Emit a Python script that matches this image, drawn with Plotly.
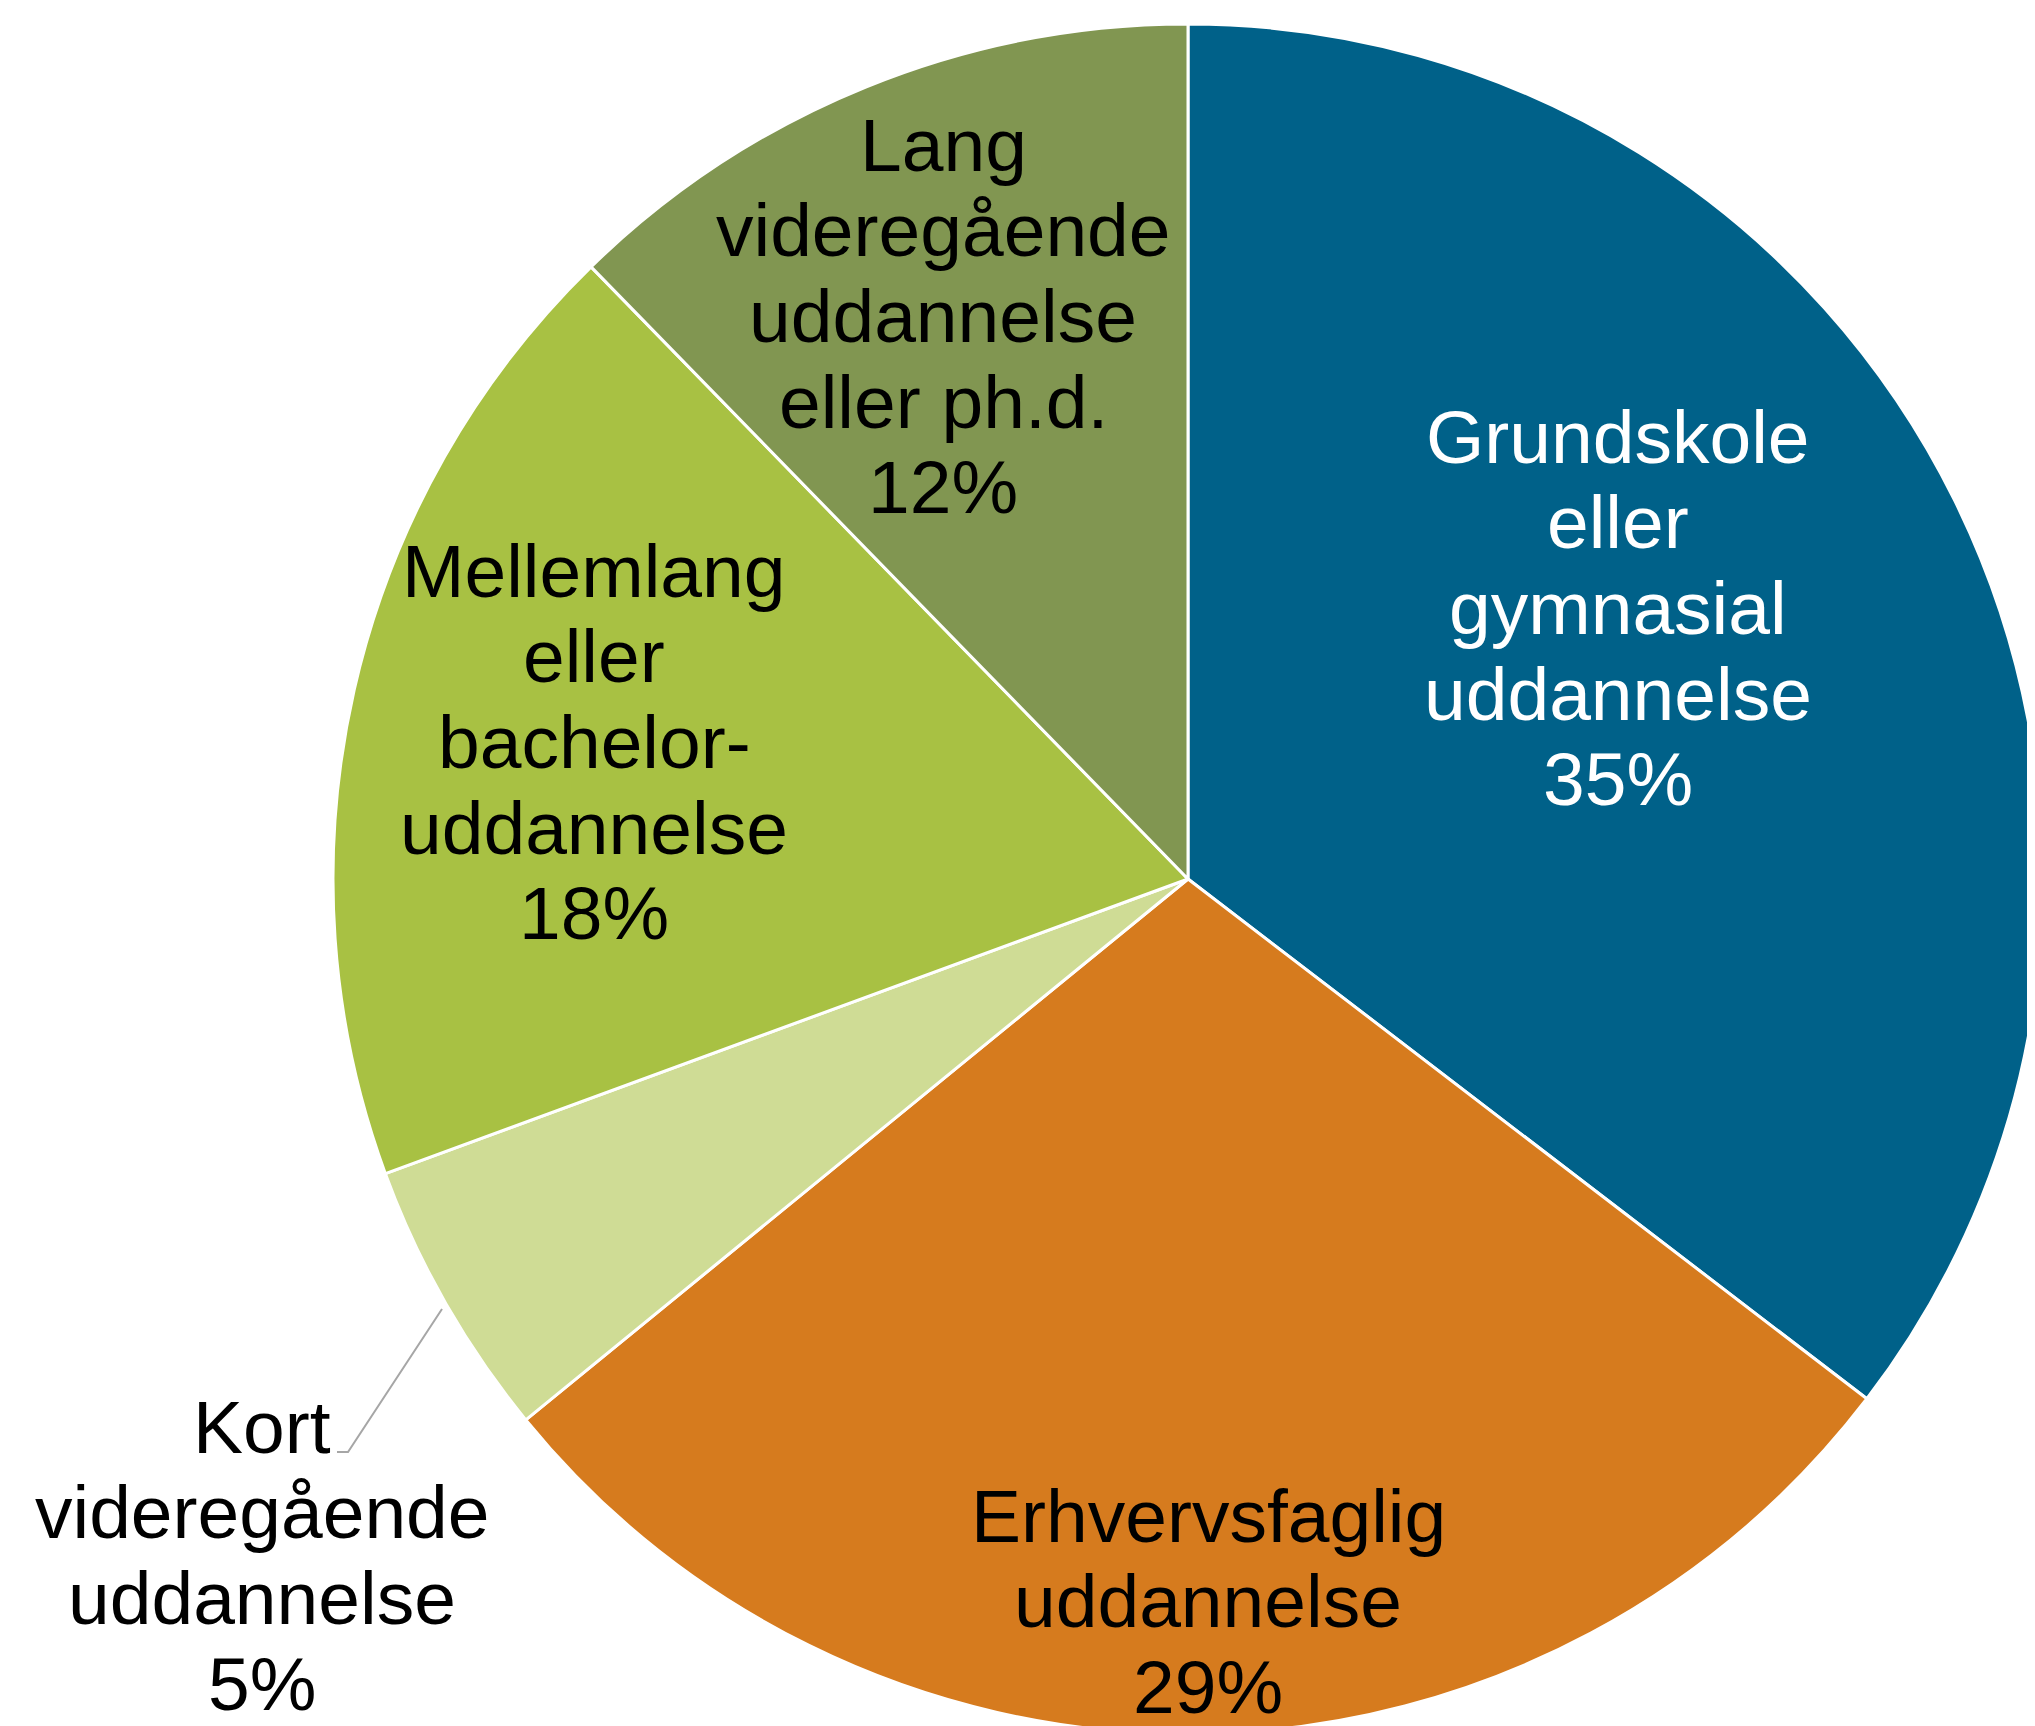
import plotly.graph_objects as go

# ---- data ----
categories = [
    "Grundskole eller gymnasial uddannelse",
    "Erhvervsfaglig uddannelse",
    "Kort videregående uddannelse",
    "Mellemlang eller bachelor-uddannelse",
    "Lang videregående uddannelse eller ph.d.",
]
values = [35.4, 28.7, 5.3, 18.3, 12.3]
label_lines = [
    ["Grundskole", "eller", "gymnasial", "uddannelse"],
    ["Erhvervsfaglig", "uddannelse"],
    ["Kort", "videregående", "uddannelse"],
    ["Mellemlang", "eller", "bachelor-", "uddannelse"],
    ["Lang", "videregående", "uddannelse", "eller ph.d."],
]
colors = ["#006189", "#D67B1E", "#CFDC95", "#A8C143", "#819651"]
text_colors = ["white", "black", "black", "black", "black"]

# ---- layout constants (pixels) ----
W, H = 2035, 1726
OFF = 8  # page body margin
label_cx = [1618, 1208, 262, 594, 943]
label_first_baseline = [463, 1542, 1453, 597, 171]
LINE_STEP = 85.6
FONT_SIZE = 75
FONT = "Liberation Sans, Arial, sans-serif"
R = 855

fig = go.Figure(
    go.Pie(
        labels=categories,
        values=values,
        sort=False,
        direction="clockwise",
        rotation=0,
        marker=dict(colors=colors, line=dict(color="white", width=3)),
        textinfo="none",
        hoverinfo="skip",
        showlegend=False,
        domain=dict(x=[(W - 2 * R) / W, 1.0], y=[0.0, 2 * R / H]),
    )
)

total = sum(values)
annotations = []
for i, lines in enumerate(label_lines):
    pct = f"{round(values[i] / total * 100)}%"
    all_lines = lines + [pct]
    for j, txt in enumerate(all_lines):
        baseline = label_first_baseline[i] + j * LINE_STEP - OFF
        yc = baseline - 0.35 * FONT_SIZE
        annotations.append(
            dict(
                x=(label_cx[i] - OFF) / W,
                y=1 - yc / H,
                xref="paper",
                yref="paper",
                xanchor="center",
                yanchor="middle",
                text=txt,
                showarrow=False,
                font=dict(family=FONT, size=FONT_SIZE, color=text_colors[i]),
            )
        )

# leader line for the small "Kort" slice
pts = [(442, 1309), (348, 1452), (337, 1452)]
path = "M " + " L ".join(
    f"{(x - OFF) / W:.5f},{1 - (y - OFF) / H:.5f}" for x, y in pts
)
shapes = [
    dict(type="path", xref="paper", yref="paper", path=path,
         line=dict(color="#A6A6A6", width=2))
]

fig.update_layout(
    width=W,
    height=H,
    margin=dict(l=0, r=0, t=0, b=0),
    paper_bgcolor="white",
    plot_bgcolor="white",
    annotations=annotations,
    shapes=shapes,
)

fig.write_html("out.html")
